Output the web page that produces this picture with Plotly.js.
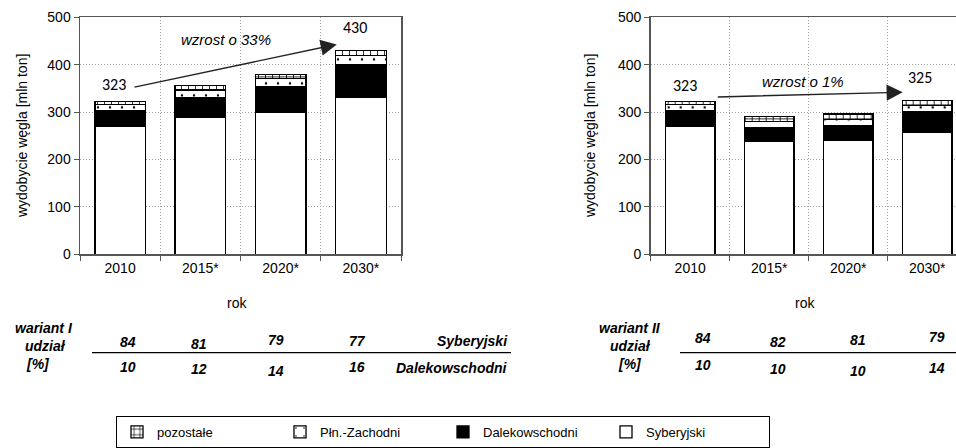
<!DOCTYPE html>
<html>
<head>
<meta charset="utf-8">
<script src="https://cdn.plot.ly/plotly-3.0.1.min.js"></script>
<style>html,body{margin:0;padding:0;background:#fff;}#chart{width:956px;height:448px;}</style>
</head>
<body>
<div id="chart"></div>
<script>
// ---- data ----
const categories = ['2010', '2015*', '2020*', '2030*'];
const seriesNames = ['Syberyjski', 'Dalekowschodni', 'Płn.-Zachodni', 'pozostałe'];
// wariant I [mln ton]
const sybI = [271, 288, 300, 331];
const dalI = [32, 43, 53, 69];
const pnzI = [13, 16, 18, 20];
const pozI = [7, 9, 9, 10];
// wariant II [mln ton]
const sybII = [271, 238, 240, 257];
const dalII = [32, 29, 32, 45];
const pnzII = [13, 13, 13, 12];
const pozII = [7, 11, 11, 11];
// udział [%]
const udzSybI = [84, 81, 79, 77];
const udzDalI = [10, 12, 14, 16];
const udzSybII = [84, 82, 81, 79];
const udzDalII = [10, 10, 10, 14];
const growthI = 'wzrost o 33%';
const growthII = 'wzrost o 1%';

// ---- helpers ----
const W = 956, H = 448;
const px = x => x / W;
const py = y => 1 - y / H;
const FONT = 'Liberation Sans, Arial, sans-serif';

const styles = [
  {color: '#ffffff', pattern: {shape: ''}},
  {color: '#000000', pattern: {shape: ''}},
  {color: '#ffffff', pattern: {shape: '.', size: 12, solidity: 0.03, fgcolor: '#000', bgcolor: '#fff'}},
  {color: '#ffffff', pattern: {shape: '+', size: 7, solidity: 0.22, fgcolor: '#000', bgcolor: '#fff'}}
];

function makeTraces(arrs, xa, ya, showLegend) {
  return arrs.map((vals, i) => ({
    type: 'bar', x: categories, y: vals, name: seriesNames[i],
    xaxis: xa, yaxis: ya, width: 0.63, showlegend: showLegend,
    marker: {color: styles[i].color, pattern: styles[i].pattern, line: {color: '#000', width: 1.3}},
    hoverinfo: 'skip'
  }));
}
const data = [].concat(
  makeTraces([sybI, dalI, pnzI, pozI], 'x', 'y', true),
  makeTraces([sybII, dalII, pnzII, pozII], 'x2', 'y2', false)
);

const sum = (arrs, i) => arrs.reduce((s, a) => s + a[i], 0);
const totI = categories.map((c, i) => sum([sybI, dalI, pnzI, pozI], i));
const totII = categories.map((c, i) => sum([sybII, dalII, pnzII, pozII], i));

const GRID = '#a0a0a0';
const axCommon = {
  type: 'category', tickson: 'boundaries', ticks: 'outside', ticklen: 5, tickcolor: '#555',
  showline: true, linecolor: '#555', linewidth: 1.5, mirror: true,
  showgrid: true, gridcolor: GRID, griddash: '1px,2px', gridwidth: 1,
  tickfont: {family: FONT, size: 14, color: '#000'}, fixedrange: true
};
const yCommon = {
  range: [0, 500], dtick: 100, ticks: 'outside', ticklen: 5, tickcolor: '#555',
  showline: true, linecolor: '#555', linewidth: 1.5, mirror: true,
  showgrid: true, gridcolor: GRID, griddash: '1px,2px', gridwidth: 1, zeroline: false,
  tickfont: {family: FONT, size: 14, color: '#000'}, domain: [py(256), py(17.5)], fixedrange: true
};

const ann = [];
const txt = (x, y, text, opts) => ann.push(Object.assign({
  xref: 'paper', yref: 'paper', x: px(x), y: py(y), text: text, showarrow: false,
  xanchor: 'center', yanchor: 'middle',
  font: {family: FONT, size: 14, color: '#000'}
}, opts || {}));

// y titles and x titles
txt(22, 137, 'wydobycie węgla [mln ton]', {textangle: -90, font: {family: FONT, size: 14, color: '#000'}});
txt(590, 137, 'wydobycie węgla [mln ton]', {textangle: -90, font: {family: FONT, size: 14, color: '#000'}});
txt(237, 305, 'rok', {font: {family: FONT, size: 14, color: '#000'}});
txt(805, 305, 'rok', {font: {family: FONT, size: 14, color: '#000'}});

// totals
const totFont = {family: 'Carlito, Open Sans, sans-serif', size: 16, color: '#000'};
ann.push({xref: 'x', yref: 'y', x: 0, y: totI[0], text: String(totI[0]), showarrow: false, xanchor: 'center', yanchor: 'bottom', yshift: 5, xshift: -6, font: totFont});
ann.push({xref: 'x', yref: 'y', x: 3, y: totI[3], text: String(totI[3]), showarrow: false, xanchor: 'center', yanchor: 'bottom', yshift: 12, xshift: -6, font: totFont});
ann.push({xref: 'x2', yref: 'y2', x: 0, y: totII[0], text: String(totII[0]), showarrow: false, xanchor: 'center', yanchor: 'bottom', yshift: 4, xshift: -5, font: totFont});
ann.push({xref: 'x2', yref: 'y2', x: 3, y: totII[3], text: String(totII[3]), showarrow: false, xanchor: 'center', yanchor: 'bottom', yshift: 11, xshift: -7, font: totFont});

// arrows
ann.push({xref: 'x', yref: 'y', axref: 'x', ayref: 'y', x: 2.70, y: 443, ax: 0.16, ay: 352,
  showarrow: true, arrowhead: 2, arrowsize: 2.3, arrowwidth: 1.4, arrowcolor: '#222', text: '', standoff: 0});
ann.push({xref: 'x2', yref: 'y2', axref: 'x2', ayref: 'y2', x: 2.69, y: 342, ax: 0.33, ay: 332,
  showarrow: true, arrowhead: 2, arrowsize: 2.3, arrowwidth: 1.4, arrowcolor: '#222', text: '', standoff: 0});
txt(226, 40, '<i>' + growthI + '</i>', {font: {family: FONT, size: 15, color: '#000'}});
txt(803, 82, '<i>' + growthII + '</i>', {font: {family: FONT, size: 15, color: '#000'}});

// tables
const tf = {family: FONT, size: 14, color: '#000'};
const bi = s => '<b><i>' + s + '</i></b>';
const tabXI = [128, 199, 276, 357];
const tabY1I = [344, 346, 342, 343];
const tabY2I = [369, 371, 374, 369];
const tabXII = [703, 778, 858, 937];
const tabY1II = [340, 344, 342, 339];
const tabY2II = [367, 371, 374, 370];
txt(44, 330, bi('wariant I'), {font: tf});
txt(45, 348, bi('udział'), {font: tf});
txt(38, 366, bi('[%]'), {font: tf});
txt(510, 343, bi('Syberyjski'), {xanchor: 'right', font: tf});
txt(510, 370, bi('Dalekowschodni'), {xanchor: 'right', font: tf});
udzSybI.forEach((v, i) => txt(tabXI[i], tabY1I[i], bi(v), {font: tf}));
udzDalI.forEach((v, i) => txt(tabXI[i], tabY2I[i], bi(v), {font: tf}));
txt(630, 330, bi('wariant II'), {font: tf});
txt(630, 348, bi('udział'), {font: tf});
txt(630, 366, bi('[%]'), {font: tf});
udzSybII.forEach((v, i) => txt(tabXII[i], tabY1II[i], bi(v), {font: tf}));
udzDalII.forEach((v, i) => txt(tabXII[i], tabY2II[i], bi(v), {font: tf}));

const shapes = [
  {type: 'line', xref: 'paper', yref: 'paper', x0: px(92), x1: px(511), y0: py(355), y1: py(355), line: {color: '#000', width: 1.3}},
  {type: 'line', xref: 'paper', yref: 'paper', x0: px(680), x1: px(956), y0: py(355), y1: py(355), line: {color: '#000', width: 1.3}}
];

const layout = {
  width: W, height: H, margin: {l: 0, r: 0, t: 0, b: 0},
  paper_bgcolor: '#fff', plot_bgcolor: '#fff', barmode: 'stack', bargap: 0.37,
  font: {family: FONT, size: 13, color: '#000'},
  xaxis: Object.assign({}, axCommon, {domain: [px(80), px(401)], range: [-0.5, 3.5], anchor: 'y'}),
  yaxis: Object.assign({}, yCommon, {anchor: 'x'}),
  xaxis2: Object.assign({}, axCommon, {domain: [px(650.7), 1], range: [-0.5, -0.5 + (956 - 650.7) / 79], anchor: 'y2'}),
  yaxis2: Object.assign({}, yCommon, {anchor: 'x2'}),
  legend: {orientation: 'h', x: px(116), y: py(419), xanchor: 'left', yanchor: 'top',
    traceorder: 'reversed', bordercolor: '#000', borderwidth: 1, bgcolor: '#fff',
    entrywidth: 118, entrywidthmode: 'pixels', itemwidth: 30,
    font: {family: FONT, size: 13, color: '#000'}},
  annotations: ann, shapes: shapes, showlegend: true
};

Plotly.newPlot('chart', data, layout, {staticPlot: true, displayModeBar: false});
</script>
</body>
</html>
